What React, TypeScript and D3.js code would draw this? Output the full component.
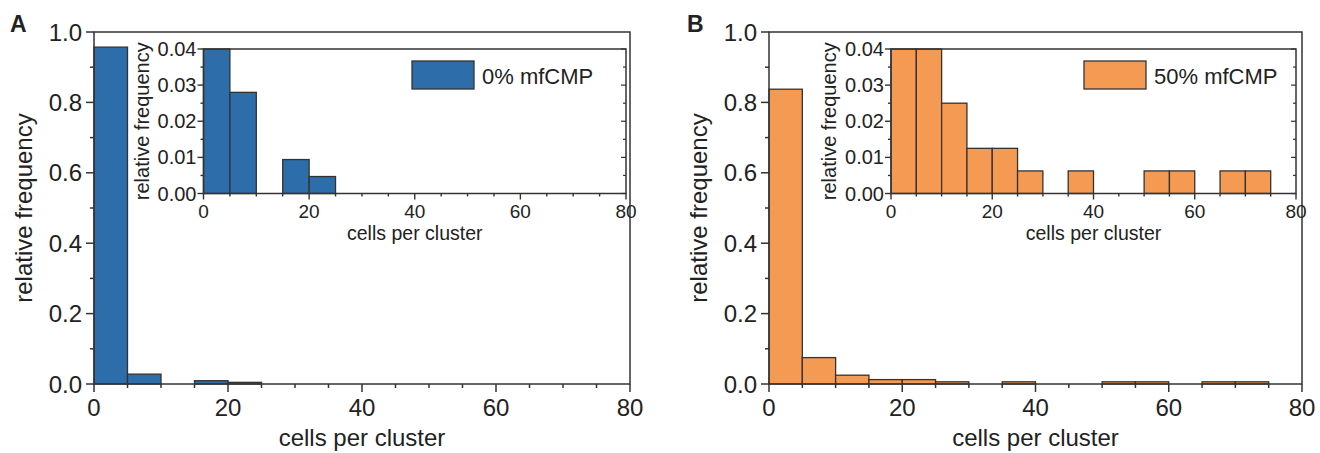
import React from 'react';
import * as d3 from 'd3';

// ---- data ----
const binStarts = [0, 5, 10, 15, 20, 25, 30, 35, 40, 45, 50, 55, 60, 65, 70, 75];
const binWidth = 5;
const freqA = [0.957, 0.028, 0, 0.0094, 0.0047, 0, 0, 0, 0, 0, 0, 0, 0, 0, 0, 0];
const freqB = [0.8375, 0.075, 0.025, 0.0125, 0.0125, 0.00625, 0, 0.00625, 0, 0, 0.00625, 0.00625, 0, 0.00625, 0.00625, 0];
const seriesNames = ['0% mfCMP', '50% mfCMP'];
const panelLetters = ['A', 'B'];
const mainXTicks = [0, 20, 40, 60, 80];
const mainYTicks = [0, 0.2, 0.4, 0.6, 0.8, 1.0];
const insetYTicks = [0, 0.01, 0.02, 0.03, 0.04];
const xLabel = 'cells per cluster';
const yLabel = 'relative frequency';

const FONT = "'Liberation Sans', Arial, Helvetica, sans-serif";
const INK = '#333333';
const COLORS = ['#2c6daa', '#f59a52'];

type Layout = {
  main: { x0: number; x1: number; y0: number; y1: number };
  inset: { x0: number; x1: number; y0: number; y1: number };
  letterX: number;
  yLabelX: number;
  insetYLabelX: number;
  legendX: number;
};

const layouts: Layout[] = [
  {
    main: { x0: 94, x1: 630, y0: 384, y1: 32 },
    inset: { x0: 203.5, x1: 626, y0: 193.5, y1: 49 },
    letterX: 10,
    yLabelX: 32,
    insetYLabelX: 149,
    legendX: 412,
  },
  {
    main: { x0: 769, x1: 1302, y0: 384, y1: 32 },
    inset: { x0: 891, x1: 1296, y0: 193.5, y1: 49 },
    letterX: 687,
    yLabelX: 707,
    insetYLabelX: 836,
    legendX: 1084,
  },
];

function range(a: number, b: number, s: number) {
  return d3.range(a, b + s / 2, s);
}

function Panel({ idx }: { idx: number }) {
  const L = layouts[idx];
  const data = idx === 0 ? freqA : freqB;
  const color = COLORS[idx];

  const x = d3.scaleLinear().domain([0, 80]).range([L.main.x0, L.main.x1]);
  const y = d3.scaleLinear().domain([0, 1]).range([L.main.y0, L.main.y1]);
  const xi = d3.scaleLinear().domain([0, 80]).range([L.inset.x0, L.inset.x1]);
  const yi = d3.scaleLinear().domain([0, 0.04]).range([L.inset.y0, L.inset.y1]);

  const fmt1 = d3.format('.1f');
  const fmt2 = d3.format('.2f');

  const bars = binStarts.map((b, i) => ({ b, v: data[i] })).filter((d) => d.v > 0);

  return (
    <g>
      {/* panel letter */}
      <text x={L.letterX} y={32} fontFamily={FONT} fontWeight="bold" fontSize={23} fill="#222">
        {panelLetters[idx]}
      </text>

      {/* main bars */}
      {bars.map((d) => (
        <rect
          key={'m' + d.b}
          x={x(d.b)}
          y={y(d.v)}
          width={x(d.b + binWidth) - x(d.b)}
          height={y(0) - y(d.v)}
          fill={color}
          stroke={INK}
          strokeWidth={1.3}
        />
      ))}

      {/* main frame */}
      <rect
        x={L.main.x0}
        y={L.main.y1}
        width={L.main.x1 - L.main.x0}
        height={L.main.y0 - L.main.y1}
        fill="none"
        stroke={INK}
        strokeWidth={1.5}
      />

      {/* main x ticks */}
      {range(0, 80, 5).map((t) => {
        const major = t % 20 === 0;
        return (
          <line
            key={'mxt' + t}
            x1={x(t)}
            x2={x(t)}
            y1={L.main.y0}
            y2={L.main.y0 + (major ? 8 : 4)}
            stroke={INK}
            strokeWidth={1.5}
          />
        );
      })}
      {mainXTicks.map((t) => (
        <text key={'mxl' + t} x={x(t)} y={416} textAnchor="middle" fontFamily={FONT} fontSize={24} fill="#222">
          {t}
        </text>
      ))}

      {/* main y ticks */}
      {range(0, 1, 0.1).map((t, i) => {
        const major = i % 2 === 0;
        return (
          <line
            key={'myt' + i}
            x1={L.main.x0 - (major ? 8 : 4)}
            x2={L.main.x0}
            y1={y(t)}
            y2={y(t)}
            stroke={INK}
            strokeWidth={1.5}
          />
        );
      })}
      {mainYTicks.map((t) => (
        <text
          key={'myl' + t}
          x={L.main.x0 - 12}
          y={y(t) + 8.5}
          textAnchor="end"
          fontFamily={FONT}
          fontSize={24}
          fill="#222"
        >
          {fmt1(t)}
        </text>
      ))}

      {/* main axis labels */}
      <text
        x={(L.main.x0 + L.main.x1) / 2}
        y={446}
        textAnchor="middle"
        fontFamily={FONT}
        fontSize={24}
        fill="#222"
      >
        {xLabel}
      </text>
      <text
        transform={`translate(${L.yLabelX},${(L.main.y0 + L.main.y1) / 2}) rotate(-90)`}
        textAnchor="middle"
        fontFamily={FONT}
        fontSize={24}
        fill="#222"
      >
        {yLabel}
      </text>

      {/* inset background */}
      <rect
        x={L.inset.x0}
        y={L.inset.y1}
        width={L.inset.x1 - L.inset.x0}
        height={L.inset.y0 - L.inset.y1}
        fill="#ffffff"
      />
      {/* inset bars */}
      {bars.map((d) => {
        const v = Math.min(d.v, 0.04);
        return (
          <rect
            key={'i' + d.b}
            x={xi(d.b)}
            y={yi(v)}
            width={xi(d.b + binWidth) - xi(d.b)}
            height={yi(0) - yi(v)}
            fill={color}
            stroke={INK}
            strokeWidth={1.3}
          />
        );
      })}
      <rect
        x={L.inset.x0}
        y={L.inset.y1}
        width={L.inset.x1 - L.inset.x0}
        height={L.inset.y0 - L.inset.y1}
        fill="none"
        stroke={INK}
        strokeWidth={1.5}
      />

      {/* inset x ticks */}
      {range(0, 80, 5).map((t) => {
        const major = t % 20 === 0;
        return (
          <line
            key={'ixt' + t}
            x1={xi(t)}
            x2={xi(t)}
            y1={L.inset.y0}
            y2={L.inset.y0 + (major ? 6 : 3)}
            stroke={INK}
            strokeWidth={1.4}
          />
        );
      })}
      {mainXTicks.map((t) => (
        <text key={'ixl' + t} x={xi(t)} y={218} textAnchor="middle" fontFamily={FONT} fontSize={19} fill="#222">
          {t}
        </text>
      ))}
      {/* inset y ticks (left outward, right inward) */}
      {range(0, 0.04, 0.005).map((t, i) => {
        const major = i % 2 === 0;
        const len = major ? 6 : 3;
        return (
          <g key={'iyt' + i}>
            <line x1={L.inset.x0 - len} x2={L.inset.x0} y1={yi(t)} y2={yi(t)} stroke={INK} strokeWidth={1.4} />
            <line
              x1={L.inset.x1 - (major ? 5 : 3)}
              x2={L.inset.x1}
              y1={yi(t)}
              y2={yi(t)}
              stroke={INK}
              strokeWidth={1.2}
            />
          </g>
        );
      })}
      {insetYTicks.map((t) => (
        <text
          key={'iyl' + t}
          x={L.inset.x0 - 7}
          y={yi(t) + 7}
          textAnchor="end"
          fontFamily={FONT}
          fontSize={20}
          fill="#222"
        >
          {fmt2(t)}
        </text>
      ))}
      <text
        x={(L.inset.x0 + L.inset.x1) / 2}
        y={239.5}
        textAnchor="middle"
        fontFamily={FONT}
        fontSize={19.5}
        fill="#222"
      >
        {xLabel}
      </text>
      <text
        transform={`translate(${L.insetYLabelX},${(L.inset.y0 + L.inset.y1) / 2}) rotate(-90)`}
        textAnchor="middle"
        fontFamily={FONT}
        fontSize={20}
        fill="#222"
      >
        {yLabel}
      </text>

      {/* legend */}
      <rect x={L.legendX} y={61} width={62} height={28} fill={color} stroke={INK} strokeWidth={1.3} />
      <text x={L.legendX + 70} y={83.5} fontFamily={FONT} fontSize={22} fill="#222">
        {seriesNames[idx]}
      </text>
    </g>
  );
}

export default function App() {
  return (
    <svg
      width={1320}
      height={453}
      viewBox="0 0 1320 453"
      style={{ position: 'absolute', left: 0, top: 0, background: '#fff' }}
    >
      <rect x={0} y={0} width={1320} height={453} fill="#fff" />
      <Panel idx={0} />
      <Panel idx={1} />
    </svg>
  );
}
